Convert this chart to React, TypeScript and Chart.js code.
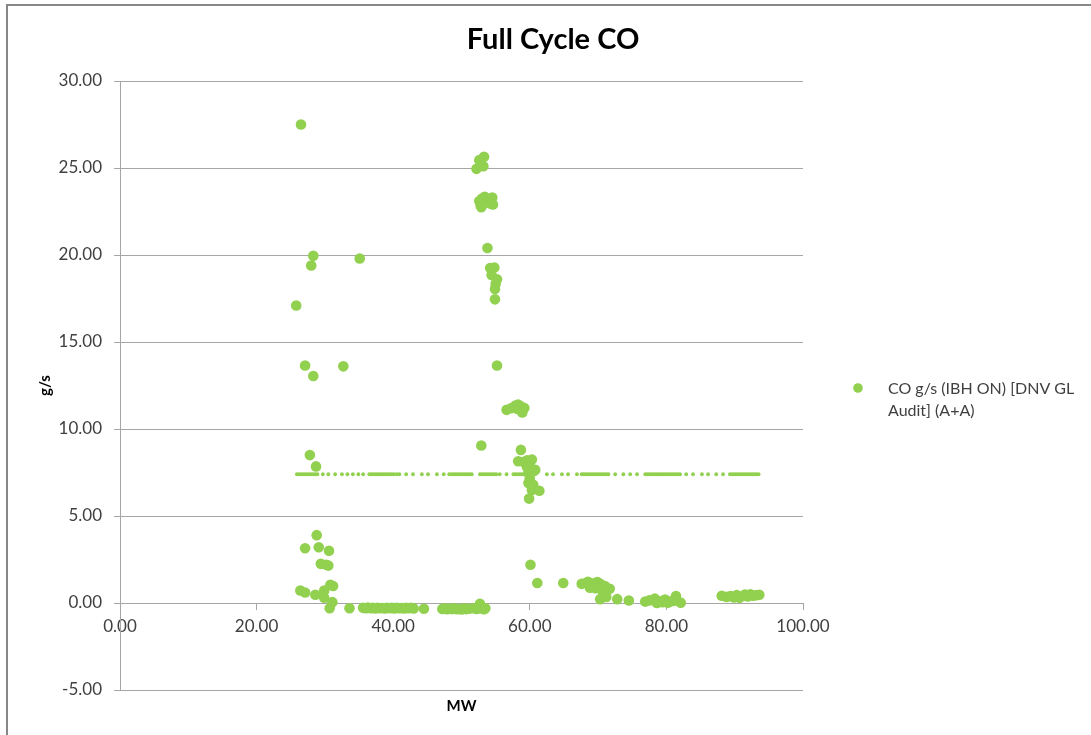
import { useEffect, useRef } from "react";
import { Chart, registerables } from "chart.js";

Chart.register(...registerables);

// Main series: MW (x) vs CO g/s (y)
const MW_X = [
  26.5, 25.8, 28.3, 28.0, 35.1, 27.1, 28.3, 32.7, 27.8, 28.7,
  28.8, 27.1, 29.1, 30.6, 29.4, 30.5, 30.2, 26.4, 27.1, 28.6,
  29.9, 29.9, 30.8, 31.2, 31.1, 30.7, 33.6,
  35.6, 36.0, 36.3, 36.7, 37.0, 37.4, 37.7, 38.1, 38.4, 38.8,
  39.1, 39.5, 39.8, 40.2, 40.5, 40.9, 41.2, 41.6, 41.9, 42.3,
  42.6, 43.0, 44.5,
  47.2, 47.6, 47.9, 48.3, 48.6, 49.0, 49.3, 49.7, 50.0, 50.4,
  50.7, 51.1, 51.8, 52.2, 52.7, 52.9, 53.3, 53.5,
  53.3, 52.6, 53.2, 52.2,
  52.6, 52.8, 53.0, 53.2, 53.4, 53.6, 53.9, 54.2, 54.5, 54.6, 54.3, 52.9,
  53.8, 54.2, 54.8, 54.4, 55.2, 55.0, 54.9, 54.9, 55.2,
  52.9,
  56.6, 57.3, 57.9, 58.3, 58.7, 59.2, 58.9, 58.2,
  58.7, 58.3, 59.1, 59.6, 60.3, 60.0, 60.8, 59.8, 60.0, 59.8,
  60.5, 60.3, 61.4, 59.9, 60.1, 59.6,
  60.1, 61.1, 64.9,
  67.6, 68.2, 68.5, 69.0, 69.5, 69.9, 70.3, 70.6, 71.0, 71.7,
  68.8, 69.6, 70.7, 70.3, 71.2,
  72.8, 74.5,
  76.9, 77.5, 78.3, 78.6, 79.0, 79.4, 79.8, 80.2, 80.5, 81.0, 81.4, 81.3, 82.1,
  88.1, 88.8, 89.4, 89.9, 90.3, 90.7, 91.2, 91.5, 91.9, 92.3, 92.7, 93.2, 93.6,
];

const CO_Y = [
  27.5, 17.1, 19.95, 19.4, 19.8, 13.65, 13.05, 13.6, 8.5, 7.85,
  3.9, 3.15, 3.2, 3.0, 2.25, 2.15, 2.2, 0.72, 0.6, 0.47,
  0.72, 0.3, 1.05, 0.98, 0.05, -0.3, -0.3,
  -0.28, -0.3, -0.26, -0.3, -0.28, -0.32, -0.27, -0.3, -0.29, -0.31,
  -0.27, -0.3, -0.28, -0.31, -0.27, -0.3, -0.29, -0.32, -0.28, -0.3,
  -0.27, -0.31, -0.33,
  -0.34, -0.3, -0.36, -0.32, -0.35, -0.3, -0.36, -0.33, -0.37, -0.31,
  -0.35, -0.33, -0.3, -0.34, -0.05, -0.32, -0.36, -0.3,
  25.65, 25.45, 25.1, 24.95,
  23.1, 22.85, 23.25, 22.95, 23.35, 23.05, 23.2, 23.15, 23.3, 22.9, 22.95, 22.75,
  20.4, 19.25, 19.28, 18.85, 18.6, 18.35, 18.05, 17.45, 13.65,
  9.05,
  11.1, 11.2, 11.35, 11.4, 11.3, 11.2, 10.95, 11.15,
  8.8, 8.15, 8.1, 8.2, 8.25, 7.85, 7.65, 7.45, 7.15, 6.9,
  6.8, 6.5, 6.45, 6.0, 7.6, 7.8,
  2.2, 1.15, 1.15,
  1.1, 1.15, 1.22, 1.1, 1.15, 1.2, 1.1, 1.0, 0.98, 0.82,
  0.88, 0.85, 0.63, 0.22, 0.35,
  0.22, 0.14,
  0.08, 0.15, 0.25, 0.0, 0.1, 0.05, 0.2, 0.02, 0.08, 0.12, 0.4, 0.18, 0.02,
  0.42, 0.35, 0.4, 0.32, 0.45, 0.3, 0.42, 0.48, 0.38, 0.5, 0.42, 0.45, 0.47,
];

// Limit line (small dots) at a constant level
const LIMIT_X = [
  25.9, 26.2, 26.5, 26.8, 27.1, 27.4, 27.7, 28.0, 28.3, 28.6, 28.9,
  29.7, 30.5, 31.5, 32.5, 33.3, 34.1, 34.9, 35.6,
  36.5, 36.8, 37.1, 37.4, 37.7, 38.0, 38.3, 38.6, 38.9, 39.2, 39.5, 39.8, 40.1, 40.5,
  40.9, 41.9, 42.9, 44.2, 45.1, 46.4, 47.4,
  48.2, 48.5, 48.8, 49.1, 49.4, 49.7, 50.0, 50.3, 50.6, 50.9, 51.2, 51.5,
  52.7, 53.0, 53.3, 53.6, 53.9, 54.2, 54.5, 54.8, 55.1, 55.6, 56.6,
  57.6, 57.9, 58.2, 58.5, 58.8, 59.1, 59.4, 59.7, 60.0, 60.8,
  62.5, 63.4, 64.7, 65.6, 66.9,
  67.6, 67.9, 68.2, 68.5, 68.8, 69.1, 69.4, 69.7, 70.0, 70.3, 70.6, 70.9, 71.2, 71.5,
  72.5, 73.7, 74.7, 75.7,
  76.9, 77.2, 77.5, 77.8, 78.1, 78.4, 78.7, 79.0, 79.3, 79.6, 79.9, 80.2, 80.5, 80.8,
  81.1, 81.4, 81.7, 82.0,
  82.9, 83.9, 85.2, 86.1, 87.3, 88.3,
  89.3, 89.6, 89.9, 90.2, 90.5, 90.8, 91.1, 91.4, 91.7, 92.0, 92.3, 92.6, 92.9, 93.2, 93.5,
];
const LIMIT_Y = 7.4;

const TITLE = "Full Cycle CO";
const X_TITLE = "MW";
const Y_TITLE = "g/s";
const LEGEND_LINES = ["CO g/s (IBH ON) [DNV GL", "Audit] (A+A)"];
const X_MIN = 0;
const X_MAX = 100;
const X_STEP = 20;
const Y_MIN = -5;
const Y_MAX = 30;
const Y_STEP = 5;

const GREEN = "#92d050";
const GRID = "#a6a6a6";
const TEXT = "#404040";
const FONT = "Lato, 'Open Sans', sans-serif";

export default function App() {
  const ref = useRef<HTMLCanvasElement>(null);

  useEffect(() => {
    const canvas = ref.current;
    if (!canvas) return;

    const decor = {
      id: "decor",
      afterDraw(chart: any) {
        const ctx = chart.ctx as CanvasRenderingContext2D;
        const area = chart.chartArea;
        ctx.save();
        // outer frame
        ctx.strokeStyle = "#878787";
        ctx.lineWidth = 2;
        ctx.strokeRect(7, 5, 1200, 900);
        // title
        ctx.fillStyle = "#000";
        ctx.font = `bold 29px ${FONT}`;
        ctx.textAlign = "center";
        ctx.textBaseline = "middle";
        ctx.fillText(TITLE, 553, 40);
        // x title
        ctx.font = `bold 15px ${FONT}`;
        ctx.fillText(X_TITLE, (area.left + area.right) / 2, 706);
        // y title
        ctx.save();
        ctx.translate(45, (area.top + area.bottom) / 2);
        ctx.rotate(-Math.PI / 2);
        ctx.fillText(Y_TITLE, 0, 0);
        ctx.restore();
        // legend
        ctx.fillStyle = GREEN;
        ctx.beginPath();
        ctx.arc(858, 388, 4.8, 0, Math.PI * 2);
        ctx.fill();
        ctx.fillStyle = TEXT;
        ctx.font = `16px ${FONT}`;
        ctx.textAlign = "left";
        LEGEND_LINES.forEach((line, i) => ctx.fillText(line, 888, 389 + i * 22));
        ctx.restore();
      },
    };

    const chart = new Chart(canvas, {
      type: "scatter",
      data: {
        datasets: [
          {
            label: LEGEND_LINES.join(" "),
            data: MW_X.map((x, i) => ({ x, y: CO_Y[i] })),
            backgroundColor: GREEN,
            borderColor: GREEN,
            borderWidth: 0,
            pointRadius: 5.3,
          },
          {
            label: "limit",
            data: LIMIT_X.map((x) => ({ x, y: LIMIT_Y })),
            backgroundColor: GREEN,
            borderColor: GREEN,
            borderWidth: 0,
            pointRadius: 1.9,
          },
        ],
      },
      options: {
        responsive: false,
        animation: false,
        devicePixelRatio: 1,
        layout: { padding: { left: 0, top: 81, right: 288, bottom: 45 } },
        plugins: {
          legend: { display: false },
          title: { display: false },
          tooltip: { enabled: false },
        },
        scales: {
          x: {
            type: "linear",
            min: X_MIN,
            max: X_MAX,
            position: { y: 0 },
            ticks: {
              stepSize: X_STEP,
              color: TEXT,
              font: { family: FONT, size: 17 },
              padding: 7,
              maxRotation: 0,
              callback: (v: any) => Number(v).toFixed(2),
            },
            grid: {
              drawOnChartArea: false,
              drawTicks: true,
              tickLength: 6,
              color: GRID,
            },
            border: { color: GRID },
          },
          y: {
            type: "linear",
            min: Y_MIN,
            max: Y_MAX,
            ticks: {
              stepSize: Y_STEP,
              color: TEXT,
              font: { family: FONT, size: 17 },
              padding: 12,
              callback: (v: any) => Number(v).toFixed(2),
            },
            grid: { color: GRID, tickLength: 6 },
            border: { color: GRID },
            afterFit: (s: any) => {
              s.width = 120;
            },
          },
        },
      },
      plugins: [decor],
    });

    return () => chart.destroy();
  }, []);

  return (
    <canvas
      ref={ref}
      width={1091}
      height={735}
      style={{ position: "fixed", left: 0, top: 0, width: 1091, height: 735 }}
    />
  );
}
